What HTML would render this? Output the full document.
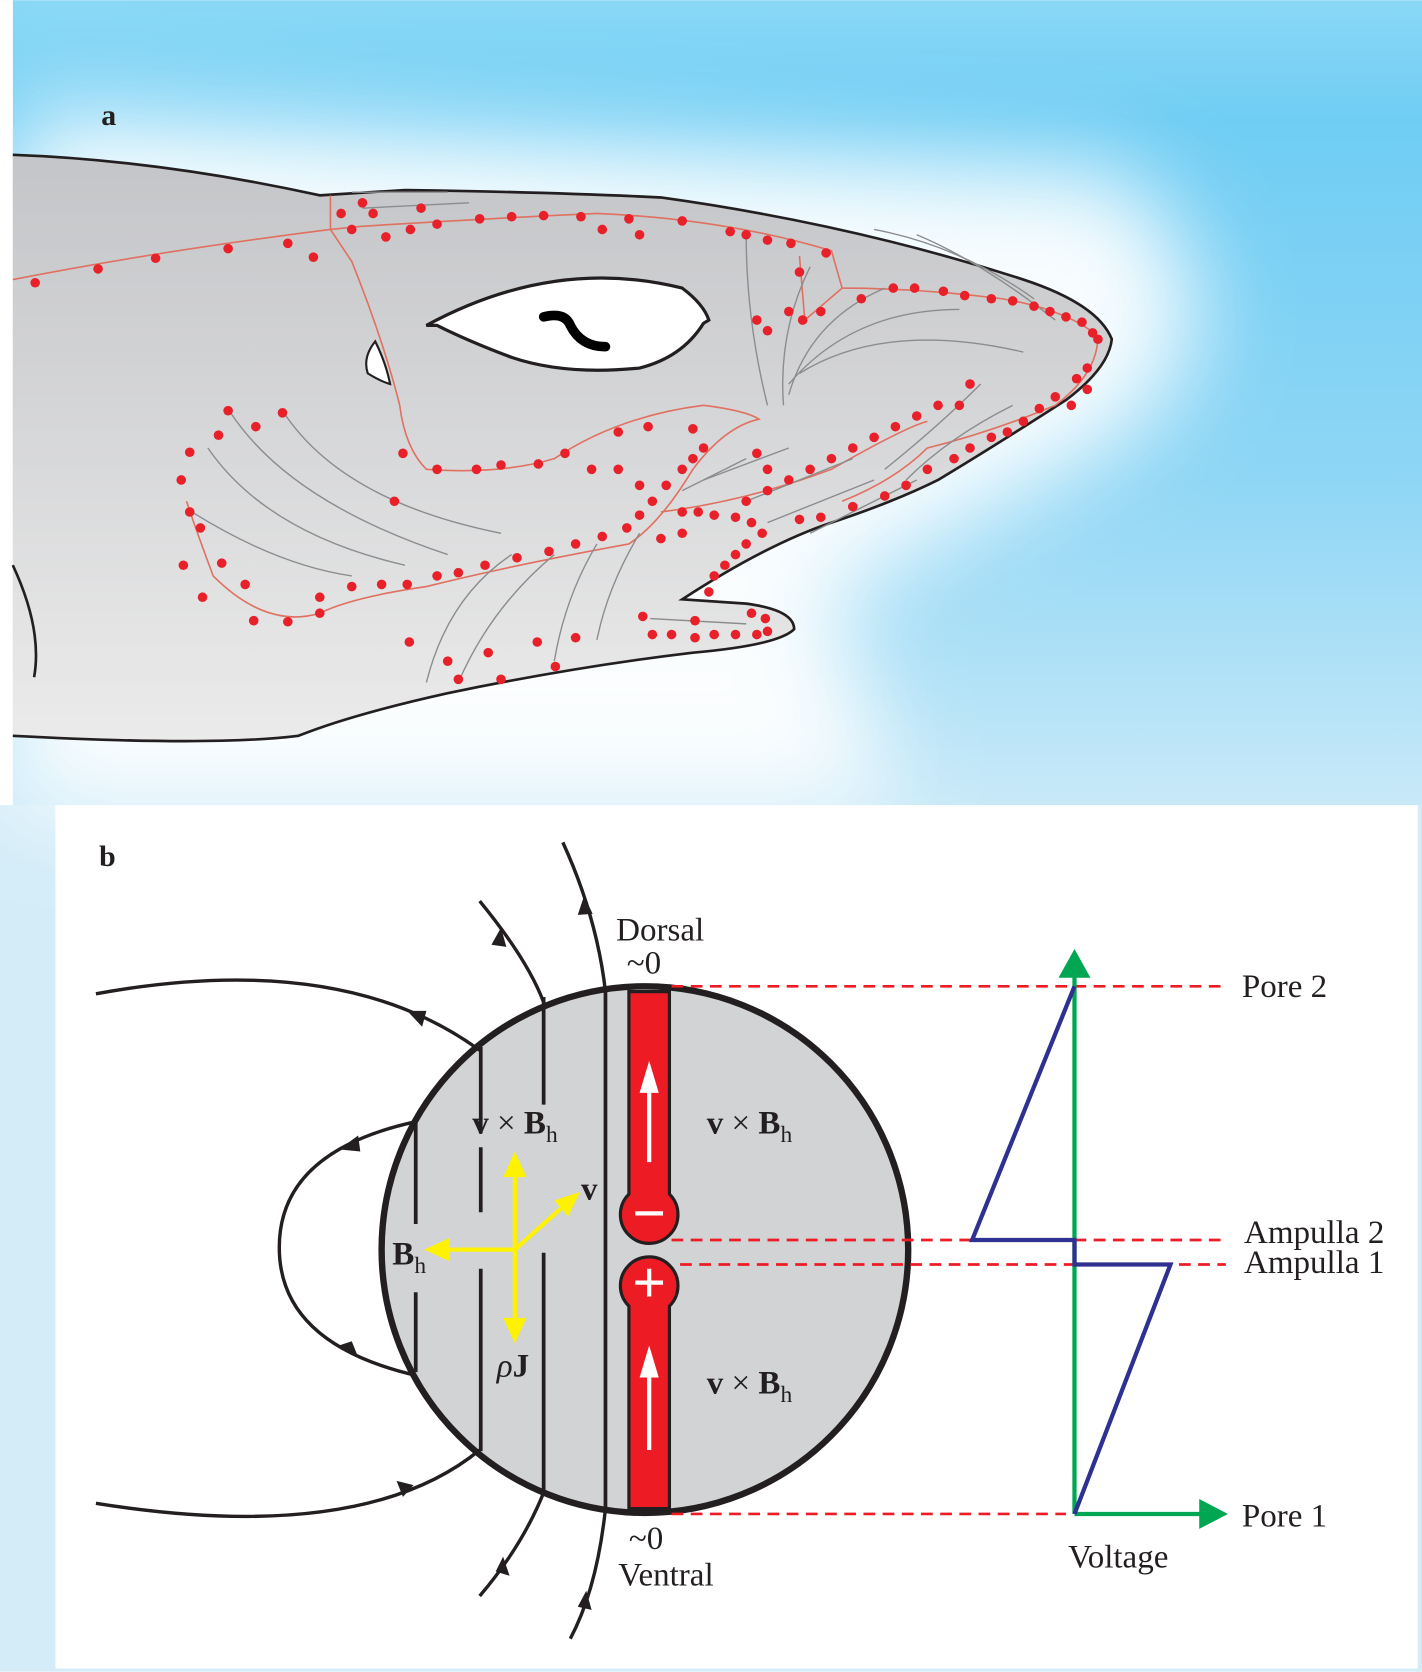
<!DOCTYPE html>
<html><head><meta charset="utf-8"><style>
html,body{margin:0;padding:0;width:1422px;height:1672px;overflow:hidden;background:#fff}
svg{display:block}
text{font-family:"Liberation Serif",serif;fill:#231f20}
</style></head><body>
<svg width="1422" height="1672" viewBox="0 0 1334 1568" xmlns="http://www.w3.org/2000/svg">
<defs>
<linearGradient id="sky" x1="0" y1="0" x2="0" y2="1">
<stop offset="0" stop-color="#8ad8f6"/><stop offset="0.15" stop-color="#6fcdf4"/><stop offset="0.6" stop-color="#8fd6f5"/><stop offset="1" stop-color="#c8e9f8"/></linearGradient>
<linearGradient id="body" x1="0" y1="0" x2="0" y2="1">
<stop offset="0" stop-color="#c4c5c8"/><stop offset="1" stop-color="#ebebeb"/></linearGradient>
<filter id="blur" x="-20%" y="-20%" width="140%" height="140%"><feGaussianBlur stdDeviation="45"/></filter>
</defs>
<rect x="0" y="0" width="1334" height="1568" fill="#d3ecf8"/>
<rect x="12" y="0" width="1322" height="755" fill="url(#sky)"/>
<path d="M12,100 L1050,160 Q1200,300 1040,420 L780,560 L840,760 L12,760 Z" fill="#ffffff" filter="url(#blur)" opacity="0.95"/>
<rect x="0" y="0" width="12" height="755" fill="#fff"/>
<text x="95" y="117" font-size="28" font-weight="bold">a</text>
<!-- shark -->
<path d="M12,145 Q150,150 300,183 L380,178 Q520,180 620,185 Q800,210 960,262 Q1030,285 1043,318 Q1040,345 1000,375 Q930,420 880,450 Q840,470 780,490 Q720,510 640,562 L700,566 Q745,572 745,590 Q730,605 650,612 Q540,625 420,650 Q330,670 280,690 Q200,700 12,690 Z" fill="url(#body)"/>
<path d="M12,145 Q150,150 300,183 L380,178 Q520,180 620,185 Q800,210 960,262 Q1030,285 1043,318 Q1040,345 1000,375 Q930,420 880,450 Q840,470 780,490 Q720,510 640,562 L700,566 Q745,572 745,590 Q730,605 650,612 Q540,625 420,650 Q330,670 280,690 Q200,700 12,690" fill="none" stroke="#231f20" stroke-width="2.5"/>
<path d="M12,530 Q40,590 32,635" fill="none" stroke="#231f20" stroke-width="2.5"/>
<!-- eye -->
<path d="M400,305 Q520,240 640,270 Q660,285 665,300 L660,303 Q640,335 600,345 Q530,352 480,335 Q440,320 410,305 Z" fill="#fff" stroke="#231f20" stroke-width="3"/>
<path d="M510,297 Q530,292 535,305 Q545,325 568,325" fill="none" stroke="#000" stroke-width="9" stroke-linecap="round"/>
<path d="M352,320 Q340,335 345,350 Q358,358 366,360 Q362,340 352,320 Z" fill="#fff" stroke="#231f20" stroke-width="2"/>
<!-- canals -->
<g fill="none" stroke="#e07060" stroke-width="1.5">
<path d="M12,262 Q150,235 310,215 L340,212 Q450,205 560,200 Q680,205 780,235 L790,270 Q860,270 940,280 Q1000,290 1030,315 Q1030,350 990,380 Q930,405 870,420 Q840,450 790,470"/>
<path d="M310,183 L310,215 L330,245 Q360,320 375,380 Q380,420 400,440 Q470,445 520,430 Q580,390 660,380 Q700,385 712,393 Q680,400 650,440 Q620,490 590,510 Q480,530 400,550 Q330,560 300,575 Q250,590 200,540 Q185,500 175,470"/>
<path d="M750,240 L755,300 L790,270"/>
<path d="M620,480 Q700,470 780,440 Q850,400 870,395"/>
</g>
<g fill="none" stroke="#8a8c8e" stroke-width="1.3">
<path d="M720,380 Q700,300 700,220"/><path d="M735,380 Q730,310 760,250"/><path d="M740,370 Q760,300 830,270"/><path d="M740,360 Q800,290 900,290"/><path d="M750,350 Q830,300 960,330"/>
<path d="M820,215 Q900,230 970,280"/><path d="M860,220 Q920,245 990,300"/>
<path d="M265,385 Q320,470 470,500"/><path d="M215,385 Q270,470 420,520"/><path d="M195,420 Q250,500 380,530"/><path d="M180,480 Q260,530 330,540"/>
<path d="M400,640 Q420,560 480,520"/><path d="M430,640 Q460,570 520,520"/><path d="M520,620 Q530,560 560,510"/><path d="M560,600 Q570,550 600,500"/>
<path d="M640,460 L700,430"/><path d="M660,450 L740,420"/><path d="M700,470 L800,430"/><path d="M720,490 L820,450"/><path d="M760,500 L860,450"/>
<path d="M830,440 Q880,400 920,360"/><path d="M850,450 Q890,410 950,380"/>
<path d="M610,580 L700,585"/><path d="M330,180 L420,180"/><path d="M340,195 L440,190"/>
</g>
<g fill="#e8202a" id="dots"></g>
<!-- panel b -->
<rect x="52" y="755" width="1278" height="810" fill="#fff"/>
<text x="93" y="812" font-size="28" font-weight="bold">b</text>
<circle cx="605" cy="1172" r="247" fill="#d1d3d4" stroke="#231f20" stroke-width="6"/>
<g stroke="#231f20" stroke-width="3.5" fill="none">
<path d="M390,1052 V1148 M390,1212 V1287"/>
<path d="M451,982 V1063 M451,1076 V1137 M451,1190 V1361"/>
<path d="M510,935 V1036 M510,1175 V1399"/>
<path d="M568,930 V1415"/>
</g>
<g stroke="#231f20" stroke-width="3.2" fill="none">
<path d="M528,790 Q560,860 568,930"/><path d="M568,1415 Q560,1490 535,1537"/>
<path d="M450,845 Q495,900 510,940"/><path d="M510,1400 Q490,1450 450,1497"/>
<path d="M90,932 Q320,890 450,985"/><path d="M90,1410 Q340,1450 450,1360"/>
<path d="M390,1052 Q262,1080 262,1170 Q262,1260 390,1290"/>
</g>
<g fill="#231f20">
<polygon points="548,840 542,858 556,857"/>
<polygon points="470,870 461,886 475,888"/>
<polygon points="382,948 396,963 400,948"/>
<polygon points="388,1393 372,1389 378,1404"/>
<polygon points="318,1078 336,1065 338,1080"/>
<polygon points="318,1262 336,1273 330,1258"/>
<polygon points="472,1460 478,1478 465,1474"/>
<polygon points="550,1492 555,1510 542,1507"/>
</g>
<!-- red electrosensor -->
<path d="M590,930 V1120 A27,27 0 1 0 628,1120 V930 Z" fill="#ed1c24" stroke="#231f20" stroke-width="3"/>
<path d="M590,1415 V1225 A27,27 0 1 1 628,1225 V1415 Z" fill="#ed1c24" stroke="#231f20" stroke-width="3"/>
<g stroke="#fff" stroke-width="4"><path d="M609,1090 V1020 M609,1360 V1290 M596,1138 H622 M596,1203 H622 M609,1190 V1216"/></g>
<g fill="#fff"><polygon points="609,995 600,1025 618,1025"/><polygon points="609,1262 600,1292 618,1292"/></g>
<!-- yellow -->
<g stroke="#fff200" stroke-width="4"><path d="M483,1172 V1100 M483,1172 V1240 M483,1172 H415 M483,1172 L530,1130"/></g>
<g fill="#fff200"><polygon points="483,1080 472,1104 494,1104"/><polygon points="483,1260 472,1236 494,1236"/><polygon points="398,1172 422,1161 422,1183"/><polygon points="544,1118 520,1126 533,1141"/></g>
<g font-size="31">
<text x="443" y="1063"><tspan font-weight="bold">v</tspan> × <tspan font-weight="bold">B</tspan><tspan font-size="22" dy="8">h</tspan></text>
<text x="663" y="1063"><tspan font-weight="bold">v</tspan> × <tspan font-weight="bold">B</tspan><tspan font-size="22" dy="8">h</tspan></text>
<text x="663" y="1307"><tspan font-weight="bold">v</tspan> × <tspan font-weight="bold">B</tspan><tspan font-size="22" dy="8">h</tspan></text>
<text x="545" y="1125" font-weight="bold">v</text>
<text x="368" y="1186" font-weight="bold">B<tspan font-size="22" dy="8" font-weight="normal">h</tspan></text>
<text x="466" y="1291" font-style="italic">ρ<tspan font-weight="bold" font-style="normal">J</tspan></text>
<text x="578" y="882">Dorsal</text><text x="588" y="913">~0</text>
<text x="590" y="1453">~0</text><text x="580" y="1487">Ventral</text>
<text x="1002" y="1470">Voltage</text>
<text x="1165" y="935">Pore 2</text><text x="1167" y="1166">Ampulla 2</text><text x="1167" y="1194">Ampulla 1</text><text x="1165" y="1432">Pore 1</text>
</g>
<g stroke="#ed1c24" stroke-width="2.5" stroke-dasharray="11,7" fill="none">
<path d="M630,925 H1150 M630,1163 H1150 M638,1186 H1150 M630,1420 H1000"/>
</g>
<g stroke="#00a651" stroke-width="4" fill="none"><path d="M1008,1420 V912 M1008,1420 H1128"/></g>
<g fill="#00a651"><polygon points="1008,890 993,917 1023,917"/><polygon points="1152,1420 1125,1406 1125,1434"/></g>
<path d="M1008,1420 L1098,1186 H1008 V1163 H912 L1008,925" fill="none" stroke="#2e3192" stroke-width="4"/>
</svg>
<script>
var P=[[33,265],[92,252],[146,242],[214,233],[270,228],[294,241],[320,200],[330,215],[350,200],[362,222],[385,215],[410,210],[450,205],[480,203],[510,202],[545,203],[590,205],[640,207],[685,217],[720,225],[742,228],[775,237],[565,215],[600,220],[700,220],[340,190],[395,195],[750,255],[753,300],[740,292],[710,300],[720,310],[770,292],[808,280],[838,270],[858,270],[885,273],[905,277],[930,280],[950,282],[970,287],[985,292],[1000,297],[1015,302],[1025,312],[1030,318],[1020,345],[1010,355],[1020,365],[1005,380],[990,372],[975,383],[960,395],[945,405],[930,410],[910,420],[895,430],[870,440],[850,455],[830,465],[800,475],[770,485],[750,487],[910,360],[900,380],[880,380],[860,390],[840,400],[820,410],[800,420],[780,430],[760,440],[740,450],[720,460],[700,470],[710,425],[720,440],[214,385],[265,387],[205,408],[240,400],[178,424],[170,450],[178,480],[188,495],[172,530],[208,528],[190,560],[230,548],[238,582],[270,583],[300,575],[300,560],[330,550],[358,548],[382,548],[410,540],[430,537],[455,530],[485,523],[515,517],[540,510],[565,503],[588,495],[600,483],[612,470],[625,455],[640,440],[650,430],[660,420],[608,400],[650,402],[378,425],[410,440],[447,440],[470,436],[505,435],[530,425],[555,440],[580,440],[580,405],[370,470],[600,455],[640,480],[655,480],[670,483],[690,485],[705,490],[700,510],[690,520],[680,530],[670,540],[665,555],[620,505],[640,500],[715,500],[384,602],[420,620],[430,637],[458,612],[470,637],[504,602],[521,625],[540,598],[603,578],[612,595],[630,595],[652,582],[652,598],[670,595],[690,595],[705,575],[718,580],[720,592],[710,595]];
var g=document.getElementById('dots');
P.forEach(function(p){var c=document.createElementNS('http://www.w3.org/2000/svg','circle');c.setAttribute('cx',p[0]);c.setAttribute('cy',p[1]);c.setAttribute('r',4.5);g.appendChild(c);});
</script>
</body></html>
